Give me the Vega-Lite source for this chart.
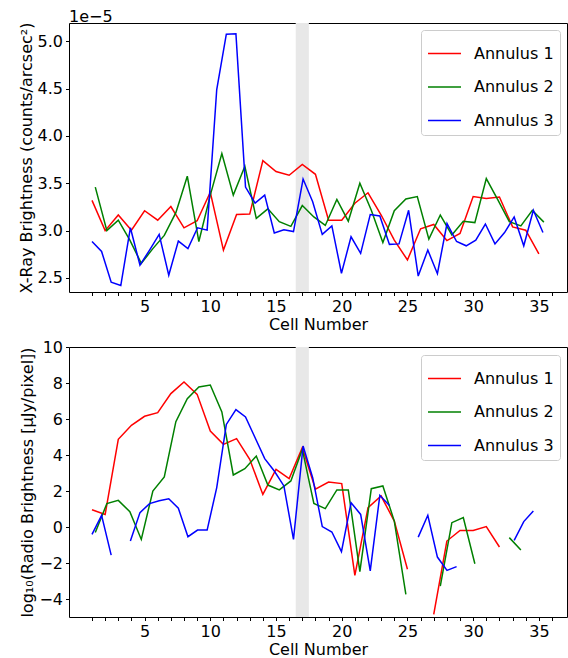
{
  "$schema": "https://vega.github.io/schema/vega-lite/v6.json",
  "background": "white",
  "padding": {"left": 17, "top": 8, "right": 1, "bottom": 0},
  "spacing": 5,
  "config": {
    "font": "DejaVu Sans",
    "view": {"stroke": "black", "strokeWidth": 1},
    "axis": {
      "grid": false, "domain": false, "tickColor": "black", "tickWidth": 1, "tickSize": 3.5,
      "labelFontSize": 16, "titleFontSize": 16, "labelColor": "black", "titleColor": "black",
      "titleFontWeight": "normal", "labelPadding": 3, "titlePadding": 3, "labelFlush": false, "labelOverlap": false
    },
    "axisX": {"labelPadding": 3, "titlePadding": 2},
    "title": {"fontSize": 16, "fontWeight": "normal", "anchor": "start", "frame": "group", "offset": -3, "color": "black"}
  },
  "resolve": {"scale": {"color": "independent"}},
  "datasets": {
    "band": [{"start": 16.5, "end": 17.5}],
    "xray": [
      {"a": "Annulus 1", "cell": 1, "v": 3.32e-5}, {"a": "Annulus 1", "cell": 2, "v": 3.0e-5}, {"a": "Annulus 1", "cell": 3, "v": 3.165e-5},
      {"a": "Annulus 1", "cell": 4, "v": 3.005e-5}, {"a": "Annulus 1", "cell": 5, "v": 3.21e-5}, {"a": "Annulus 1", "cell": 6, "v": 3.11e-5},
      {"a": "Annulus 1", "cell": 7, "v": 3.255e-5}, {"a": "Annulus 1", "cell": 8, "v": 3.03e-5}, {"a": "Annulus 1", "cell": 9, "v": 3.105e-5},
      {"a": "Annulus 1", "cell": 10, "v": 3.405e-5}, {"a": "Annulus 1", "cell": 11, "v": 2.795e-5}, {"a": "Annulus 1", "cell": 12, "v": 3.17e-5},
      {"a": "Annulus 1", "cell": 13, "v": 3.175e-5}, {"a": "Annulus 1", "cell": 14, "v": 3.74e-5}, {"a": "Annulus 1", "cell": 15, "v": 3.625e-5},
      {"a": "Annulus 1", "cell": 16, "v": 3.585e-5}, {"a": "Annulus 1", "cell": 17, "v": 3.7e-5}, {"a": "Annulus 1", "cell": 18, "v": 3.595e-5},
      {"a": "Annulus 1", "cell": 19, "v": 3.11e-5}, {"a": "Annulus 1", "cell": 20, "v": 3.11e-5}, {"a": "Annulus 1", "cell": 21, "v": 3.29e-5},
      {"a": "Annulus 1", "cell": 22, "v": 3.4e-5}, {"a": "Annulus 1", "cell": 23, "v": 3.165e-5}, {"a": "Annulus 1", "cell": 24, "v": 2.9e-5},
      {"a": "Annulus 1", "cell": 25, "v": 2.69e-5}, {"a": "Annulus 1", "cell": 26, "v": 3.02e-5}, {"a": "Annulus 1", "cell": 27, "v": 3.065e-5},
      {"a": "Annulus 1", "cell": 28, "v": 2.895e-5}, {"a": "Annulus 1", "cell": 29, "v": 2.97e-5}, {"a": "Annulus 1", "cell": 30, "v": 3.36e-5},
      {"a": "Annulus 1", "cell": 31, "v": 3.34e-5}, {"a": "Annulus 1", "cell": 32, "v": 3.355e-5}, {"a": "Annulus 1", "cell": 33, "v": 3.04e-5},
      {"a": "Annulus 1", "cell": 34, "v": 3.005e-5}, {"a": "Annulus 1", "cell": 35, "v": 2.755e-5},

      {"a": "Annulus 2", "cell": 1.25, "v": 3.46e-5}, {"a": "Annulus 2", "cell": 2.13, "v": 3.0e-5}, {"a": "Annulus 2", "cell": 3.0, "v": 3.11e-5},
      {"a": "Annulus 2", "cell": 3.88, "v": 2.9e-5}, {"a": "Annulus 2", "cell": 4.75, "v": 2.655e-5}, {"a": "Annulus 2", "cell": 5.63, "v": 2.81e-5},
      {"a": "Annulus 2", "cell": 6.5, "v": 2.95e-5}, {"a": "Annulus 2", "cell": 7.38, "v": 3.19e-5}, {"a": "Annulus 2", "cell": 8.25, "v": 3.575e-5},
      {"a": "Annulus 2", "cell": 9.13, "v": 2.885e-5}, {"a": "Annulus 2", "cell": 10.0, "v": 3.375e-5}, {"a": "Annulus 2", "cell": 10.88, "v": 3.815e-5},
      {"a": "Annulus 2", "cell": 11.75, "v": 3.375e-5}, {"a": "Annulus 2", "cell": 12.63, "v": 3.68e-5}, {"a": "Annulus 2", "cell": 13.5, "v": 3.13e-5},
      {"a": "Annulus 2", "cell": 14.38, "v": 3.23e-5}, {"a": "Annulus 2", "cell": 15.25, "v": 3.095e-5}, {"a": "Annulus 2", "cell": 16.13, "v": 3.045e-5},
      {"a": "Annulus 2", "cell": 17.0, "v": 3.265e-5}, {"a": "Annulus 2", "cell": 17.88, "v": 3.145e-5}, {"a": "Annulus 2", "cell": 18.75, "v": 3.055e-5},
      {"a": "Annulus 2", "cell": 19.63, "v": 3.33e-5}, {"a": "Annulus 2", "cell": 20.5, "v": 3.1e-5}, {"a": "Annulus 2", "cell": 21.38, "v": 3.5e-5},
      {"a": "Annulus 2", "cell": 22.25, "v": 3.215e-5}, {"a": "Annulus 2", "cell": 23.13, "v": 2.875e-5}, {"a": "Annulus 2", "cell": 24.0, "v": 3.21e-5},
      {"a": "Annulus 2", "cell": 24.88, "v": 3.335e-5}, {"a": "Annulus 2", "cell": 25.75, "v": 3.36e-5}, {"a": "Annulus 2", "cell": 26.63, "v": 2.91e-5},
      {"a": "Annulus 2", "cell": 27.5, "v": 3.165e-5}, {"a": "Annulus 2", "cell": 28.38, "v": 2.955e-5}, {"a": "Annulus 2", "cell": 29.25, "v": 3.1e-5},
      {"a": "Annulus 2", "cell": 30.13, "v": 3.085e-5}, {"a": "Annulus 2", "cell": 31.0, "v": 3.55e-5}, {"a": "Annulus 2", "cell": 31.88, "v": 3.325e-5},
      {"a": "Annulus 2", "cell": 32.75, "v": 3.095e-5}, {"a": "Annulus 2", "cell": 33.63, "v": 3.05e-5}, {"a": "Annulus 2", "cell": 34.5, "v": 3.215e-5},
      {"a": "Annulus 2", "cell": 35.38, "v": 3.09e-5},

      {"a": "Annulus 3", "cell": 1.0, "v": 2.885e-5}, {"a": "Annulus 3", "cell": 1.73, "v": 2.78e-5}, {"a": "Annulus 3", "cell": 2.46, "v": 2.455e-5},
      {"a": "Annulus 3", "cell": 3.19, "v": 2.42e-5}, {"a": "Annulus 3", "cell": 3.92, "v": 3.03e-5}, {"a": "Annulus 3", "cell": 4.65, "v": 2.635e-5},
      {"a": "Annulus 3", "cell": 5.38, "v": 2.795e-5}, {"a": "Annulus 3", "cell": 6.11, "v": 2.96e-5}, {"a": "Annulus 3", "cell": 6.84, "v": 2.53e-5},
      {"a": "Annulus 3", "cell": 7.57, "v": 2.89e-5}, {"a": "Annulus 3", "cell": 8.3, "v": 2.81e-5}, {"a": "Annulus 3", "cell": 9.03, "v": 3.03e-5},
      {"a": "Annulus 3", "cell": 9.76, "v": 3.005e-5}, {"a": "Annulus 3", "cell": 10.49, "v": 4.49e-5}, {"a": "Annulus 3", "cell": 11.22, "v": 5.075e-5},
      {"a": "Annulus 3", "cell": 11.95, "v": 5.08e-5}, {"a": "Annulus 3", "cell": 12.68, "v": 3.46e-5}, {"a": "Annulus 3", "cell": 13.41, "v": 3.29e-5},
      {"a": "Annulus 3", "cell": 14.14, "v": 3.375e-5}, {"a": "Annulus 3", "cell": 14.87, "v": 2.975e-5}, {"a": "Annulus 3", "cell": 15.6, "v": 3.01e-5},
      {"a": "Annulus 3", "cell": 16.33, "v": 2.99e-5}, {"a": "Annulus 3", "cell": 17.06, "v": 3.545e-5}, {"a": "Annulus 3", "cell": 17.79, "v": 3.305e-5},
      {"a": "Annulus 3", "cell": 18.52, "v": 2.96e-5}, {"a": "Annulus 3", "cell": 19.25, "v": 3.05e-5}, {"a": "Annulus 3", "cell": 19.98, "v": 2.55e-5},
      {"a": "Annulus 3", "cell": 20.71, "v": 2.935e-5}, {"a": "Annulus 3", "cell": 21.44, "v": 2.76e-5}, {"a": "Annulus 3", "cell": 22.17, "v": 3.17e-5},
      {"a": "Annulus 3", "cell": 22.9, "v": 3.155e-5}, {"a": "Annulus 3", "cell": 23.63, "v": 2.855e-5}, {"a": "Annulus 3", "cell": 24.36, "v": 2.86e-5},
      {"a": "Annulus 3", "cell": 25.09, "v": 3.215e-5}, {"a": "Annulus 3", "cell": 25.82, "v": 2.52e-5}, {"a": "Annulus 3", "cell": 26.55, "v": 2.795e-5},
      {"a": "Annulus 3", "cell": 27.28, "v": 2.545e-5}, {"a": "Annulus 3", "cell": 28.01, "v": 3.075e-5}, {"a": "Annulus 3", "cell": 28.74, "v": 2.885e-5},
      {"a": "Annulus 3", "cell": 29.47, "v": 2.84e-5}, {"a": "Annulus 3", "cell": 30.2, "v": 2.9e-5}, {"a": "Annulus 3", "cell": 30.93, "v": 3.07e-5},
      {"a": "Annulus 3", "cell": 31.66, "v": 2.86e-5}, {"a": "Annulus 3", "cell": 32.39, "v": 2.98e-5}, {"a": "Annulus 3", "cell": 33.12, "v": 3.145e-5},
      {"a": "Annulus 3", "cell": 33.85, "v": 2.84e-5}, {"a": "Annulus 3", "cell": 34.58, "v": 3.215e-5}, {"a": "Annulus 3", "cell": 35.31, "v": 2.98e-5}
    ],
    "radio": [
      {"a": "Annulus 1", "cell": 1, "v": 0.96}, {"a": "Annulus 1", "cell": 2, "v": 0.7}, {"a": "Annulus 1", "cell": 3, "v": 4.87},
      {"a": "Annulus 1", "cell": 4, "v": 5.65}, {"a": "Annulus 1", "cell": 5, "v": 6.15}, {"a": "Annulus 1", "cell": 6, "v": 6.35},
      {"a": "Annulus 1", "cell": 7, "v": 7.41}, {"a": "Annulus 1", "cell": 8, "v": 8.06}, {"a": "Annulus 1", "cell": 9, "v": 7.37},
      {"a": "Annulus 1", "cell": 10, "v": 5.33}, {"a": "Annulus 1", "cell": 11, "v": 4.59}, {"a": "Annulus 1", "cell": 12, "v": 4.91},
      {"a": "Annulus 1", "cell": 13, "v": 3.76}, {"a": "Annulus 1", "cell": 14, "v": 1.81}, {"a": "Annulus 1", "cell": 15, "v": 3.2},
      {"a": "Annulus 1", "cell": 16, "v": 2.69}, {"a": "Annulus 1", "cell": 17, "v": 4.41}, {"a": "Annulus 1", "cell": 18, "v": 2.1},
      {"a": "Annulus 1", "cell": 19, "v": 2.5}, {"a": "Annulus 1", "cell": 20, "v": 2.41}, {"a": "Annulus 1", "cell": 21, "v": -2.69},
      {"a": "Annulus 1", "cell": 22, "v": 1.07}, {"a": "Annulus 1", "cell": 23, "v": 1.72}, {"a": "Annulus 1", "cell": 24, "v": 0.33},
      {"a": "Annulus 1", "cell": 25, "v": -2.35}, {"a": "Annulus 1", "cell": 26, "v": null}, {"a": "Annulus 1", "cell": 27, "v": -4.85},
      {"a": "Annulus 1", "cell": 28, "v": -0.78}, {"a": "Annulus 1", "cell": 29, "v": -0.19}, {"a": "Annulus 1", "cell": 30, "v": -0.19},
      {"a": "Annulus 1", "cell": 31, "v": 0.02}, {"a": "Annulus 1", "cell": 32, "v": -1.11}, {"a": "Annulus 1", "cell": 33, "v": null},
      {"a": "Annulus 1", "cell": 34, "v": null}, {"a": "Annulus 1", "cell": 35, "v": null},

      {"a": "Annulus 2", "cell": 1.25, "v": -0.31}, {"a": "Annulus 2", "cell": 2.13, "v": 1.3}, {"a": "Annulus 2", "cell": 3.0, "v": 1.48},
      {"a": "Annulus 2", "cell": 3.88, "v": 0.85}, {"a": "Annulus 2", "cell": 4.75, "v": -0.69}, {"a": "Annulus 2", "cell": 5.63, "v": 2.0},
      {"a": "Annulus 2", "cell": 6.5, "v": 2.78}, {"a": "Annulus 2", "cell": 7.38, "v": 5.85}, {"a": "Annulus 2", "cell": 8.25, "v": 7.13},
      {"a": "Annulus 2", "cell": 9.13, "v": 7.78}, {"a": "Annulus 2", "cell": 10.0, "v": 7.89}, {"a": "Annulus 2", "cell": 10.88, "v": 6.39},
      {"a": "Annulus 2", "cell": 11.75, "v": 2.89}, {"a": "Annulus 2", "cell": 12.63, "v": 3.24}, {"a": "Annulus 2", "cell": 13.5, "v": 3.94},
      {"a": "Annulus 2", "cell": 14.38, "v": 2.33}, {"a": "Annulus 2", "cell": 15.25, "v": 2.06}, {"a": "Annulus 2", "cell": 16.13, "v": 2.56},
      {"a": "Annulus 2", "cell": 17.0, "v": 4.31}, {"a": "Annulus 2", "cell": 17.88, "v": 1.31}, {"a": "Annulus 2", "cell": 18.75, "v": 1.02},
      {"a": "Annulus 2", "cell": 19.63, "v": 2.06}, {"a": "Annulus 2", "cell": 20.5, "v": 2.06}, {"a": "Annulus 2", "cell": 21.38, "v": -2.48},
      {"a": "Annulus 2", "cell": 22.25, "v": 2.13}, {"a": "Annulus 2", "cell": 23.13, "v": 2.28}, {"a": "Annulus 2", "cell": 24.0, "v": 0.33},
      {"a": "Annulus 2", "cell": 24.88, "v": -3.74}, {"a": "Annulus 2", "cell": 25.75, "v": null}, {"a": "Annulus 2", "cell": 26.63, "v": null},
      {"a": "Annulus 2", "cell": 27.5, "v": -3.28}, {"a": "Annulus 2", "cell": 28.38, "v": 0.24}, {"a": "Annulus 2", "cell": 29.25, "v": 0.52},
      {"a": "Annulus 2", "cell": 30.13, "v": -2.04}, {"a": "Annulus 2", "cell": 31.0, "v": null}, {"a": "Annulus 2", "cell": 31.88, "v": null},
      {"a": "Annulus 2", "cell": 32.75, "v": -0.59}, {"a": "Annulus 2", "cell": 33.63, "v": -1.28}, {"a": "Annulus 2", "cell": 34.5, "v": null},
      {"a": "Annulus 2", "cell": 35.38, "v": null},

      {"a": "Annulus 3", "cell": 1.0, "v": -0.41}, {"a": "Annulus 3", "cell": 1.73, "v": 0.65}, {"a": "Annulus 3", "cell": 2.46, "v": -1.56},
      {"a": "Annulus 3", "cell": 3.19, "v": null}, {"a": "Annulus 3", "cell": 3.92, "v": -0.78}, {"a": "Annulus 3", "cell": 4.65, "v": 0.8},
      {"a": "Annulus 3", "cell": 5.38, "v": 1.3}, {"a": "Annulus 3", "cell": 6.11, "v": 1.46}, {"a": "Annulus 3", "cell": 6.84, "v": 1.57},
      {"a": "Annulus 3", "cell": 7.57, "v": 1.04}, {"a": "Annulus 3", "cell": 8.3, "v": -0.54}, {"a": "Annulus 3", "cell": 9.03, "v": -0.17},
      {"a": "Annulus 3", "cell": 9.76, "v": -0.17}, {"a": "Annulus 3", "cell": 10.49, "v": 2.19}, {"a": "Annulus 3", "cell": 11.22, "v": 5.7},
      {"a": "Annulus 3", "cell": 11.95, "v": 6.52}, {"a": "Annulus 3", "cell": 12.68, "v": 6.11}, {"a": "Annulus 3", "cell": 13.41, "v": 4.96},
      {"a": "Annulus 3", "cell": 14.14, "v": 3.8}, {"a": "Annulus 3", "cell": 14.87, "v": 3.11}, {"a": "Annulus 3", "cell": 15.6, "v": 2.28},
      {"a": "Annulus 3", "cell": 16.33, "v": -0.69}, {"a": "Annulus 3", "cell": 17.06, "v": 4.5}, {"a": "Annulus 3", "cell": 17.79, "v": 2.74},
      {"a": "Annulus 3", "cell": 18.52, "v": 0.02}, {"a": "Annulus 3", "cell": 19.25, "v": -0.28}, {"a": "Annulus 3", "cell": 19.98, "v": -1.37},
      {"a": "Annulus 3", "cell": 20.71, "v": 1.35}, {"a": "Annulus 3", "cell": 21.44, "v": 0.7}, {"a": "Annulus 3", "cell": 22.17, "v": -2.44},
      {"a": "Annulus 3", "cell": 22.9, "v": 1.76}, {"a": "Annulus 3", "cell": 23.63, "v": 1.2}, {"a": "Annulus 3", "cell": 24.36, "v": null},
      {"a": "Annulus 3", "cell": 25.09, "v": null}, {"a": "Annulus 3", "cell": 25.82, "v": -0.56}, {"a": "Annulus 3", "cell": 26.55, "v": 0.65},
      {"a": "Annulus 3", "cell": 27.28, "v": -1.67}, {"a": "Annulus 3", "cell": 28.01, "v": -2.41}, {"a": "Annulus 3", "cell": 28.74, "v": -2.2},
      {"a": "Annulus 3", "cell": 29.47, "v": null}, {"a": "Annulus 3", "cell": 30.2, "v": null}, {"a": "Annulus 3", "cell": 30.93, "v": null},
      {"a": "Annulus 3", "cell": 31.66, "v": null}, {"a": "Annulus 3", "cell": 32.39, "v": null}, {"a": "Annulus 3", "cell": 33.12, "v": -0.74},
      {"a": "Annulus 3", "cell": 33.85, "v": 0.3}, {"a": "Annulus 3", "cell": 34.58, "v": 0.89}, {"a": "Annulus 3", "cell": 35.31, "v": null}
    ]
  },
  "vconcat": [
    {
      "title": {"text": "1e−5"},
      "width": 498,
      "height": 269,
      "layer": [
        {
          "data": {"name": "band"},
          "mark": {"type": "rect", "color": "#e8e8e8"},
          "encoding": {
            "x": {"field": "start", "type": "quantitative", "scale": {"domain": [-0.75, 37.14], "nice": false, "zero": false},
                  "axis": {"title": "Cell Number", "values": [1,2,3,4,5,6,7,8,9,10,11,12,13,14,15,16,17,18,19,20,21,22,23,24,25,26,27,28,29,30,31,32,33,34,35,36], "labelExpr": "datum.value % 5 === 0 ? datum.label : ''"}},
            "x2": {"field": "end"}
          }
        },
        {
          "data": {"name": "xray"},
          "mark": {"type": "line", "strokeWidth": 1.5, "clip": true},
          "encoding": {
            "x": {"field": "cell", "type": "quantitative", "scale": {"domain": [-0.75, 37.14], "nice": false, "zero": false},
                  "axis": {"title": "Cell Number", "values": [1,2,3,4,5,6,7,8,9,10,11,12,13,14,15,16,17,18,19,20,21,22,23,24,25,26,27,28,29,30,31,32,33,34,35,36], "labelExpr": "datum.value % 5 === 0 ? datum.label : ''"}},
            "y": {"field": "v", "type": "quantitative", "scale": {"domain": [2.352e-5, 5.193e-5], "nice": false, "zero": false},
                  "axis": {"title": "X-Ray Brightness (counts/arcsec²)", "values": [2.5e-5, 3.0e-5, 3.5e-5, 4.0e-5, 4.5e-5, 5.0e-5], "labelExpr": "format(datum.value * 1e5, '.1f')"}},
            "color": {"field": "a", "type": "nominal",
                      "scale": {"domain": ["Annulus 1", "Annulus 2", "Annulus 3"], "range": ["#ff0000", "#008000", "#0000ff"]},
                      "legend": {"title": null, "orient": "none", "legendX": 352, "legendY": 7, "symbolType": "stroke", "symbolSize": 1089,
                                 "symbolStrokeWidth": 1.5, "labelFontSize": 16, "labelColor": "black", "labelOffset": 12, "rowPadding": 7.5,
                                 "padding": 6, "cornerRadius": 3, "strokeColor": "#cccccc", "fillColor": "white"}}
          }
        }
      ]
    },
    {
      "width": 498,
      "height": 270,
      "layer": [
        {
          "data": {"name": "band"},
          "mark": {"type": "rect", "color": "#e8e8e8"},
          "encoding": {
            "x": {"field": "start", "type": "quantitative", "scale": {"domain": [-0.75, 37.14], "nice": false, "zero": false},
                  "axis": {"title": "Cell Number", "values": [1,2,3,4,5,6,7,8,9,10,11,12,13,14,15,16,17,18,19,20,21,22,23,24,25,26,27,28,29,30,31,32,33,34,35,36], "labelExpr": "datum.value % 5 === 0 ? datum.label : ''"}},
            "x2": {"field": "end"}
          }
        },
        {
          "data": {"name": "radio"},
          "mark": {"type": "line", "strokeWidth": 1.5, "clip": true, "invalid": "break-paths-show-domains"},
          "encoding": {
            "x": {"field": "cell", "type": "quantitative", "scale": {"domain": [-0.75, 37.14], "nice": false, "zero": false},
                  "axis": {"title": "Cell Number", "values": [1,2,3,4,5,6,7,8,9,10,11,12,13,14,15,16,17,18,19,20,21,22,23,24,25,26,27,28,29,30,31,32,33,34,35,36], "labelExpr": "datum.value % 5 === 0 ? datum.label : ''"}},
            "y": {"field": "v", "type": "quantitative", "scale": {"domain": [-5, 10], "nice": false, "zero": false},
                  "axis": {"title": "log₁₀(Radio Brightness [μJy/pixel])", "values": [-4, -2, 0, 2, 4, 6, 8, 10]}},
            "color": {"field": "a", "type": "nominal",
                      "scale": {"domain": ["Annulus 1", "Annulus 2", "Annulus 3"], "range": ["#ff0000", "#008000", "#0000ff"]},
                      "legend": {"title": null, "orient": "none", "legendX": 352, "legendY": 8, "symbolType": "stroke", "symbolSize": 1089,
                                 "symbolStrokeWidth": 1.5, "labelFontSize": 16, "labelColor": "black", "labelOffset": 12, "rowPadding": 7.5,
                                 "padding": 6, "cornerRadius": 3, "strokeColor": "#cccccc", "fillColor": "white"}}
          }
        }
      ]
    }
  ]
}
